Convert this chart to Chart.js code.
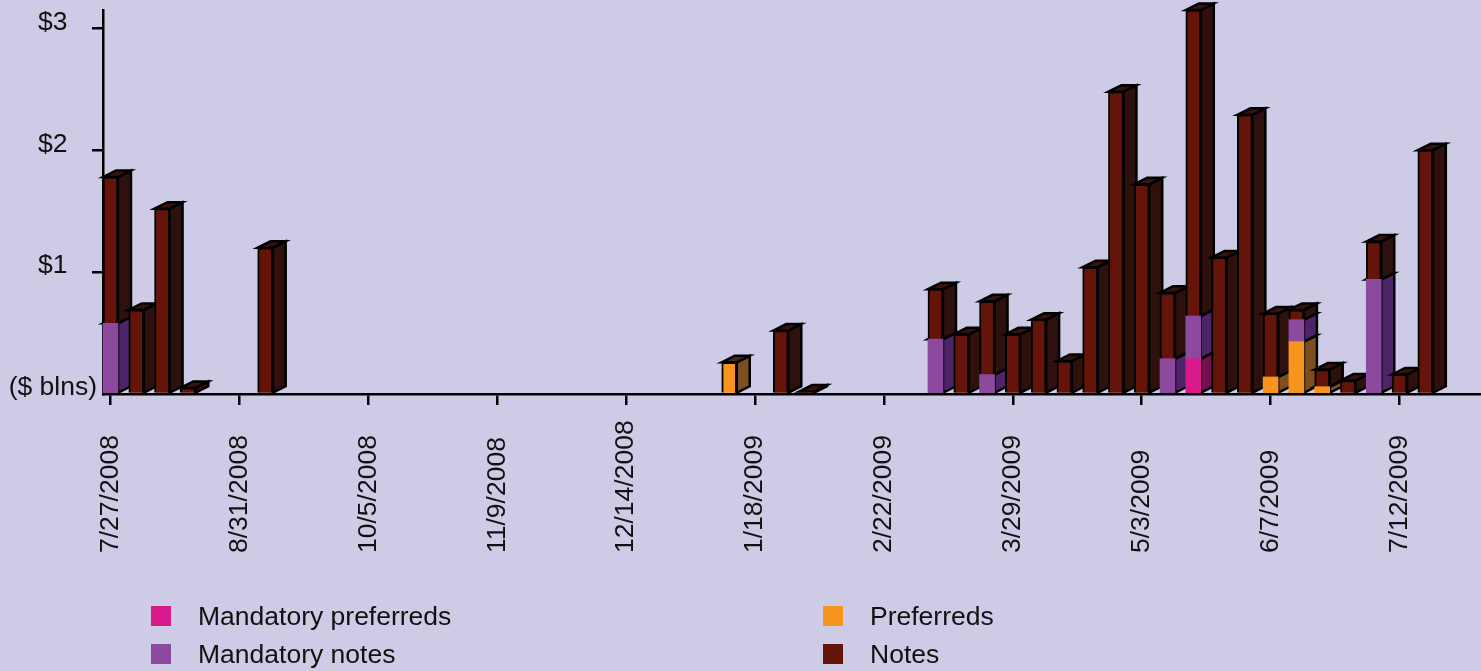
<!DOCTYPE html>
<html>
<head>
<meta charset="utf-8">
<script src="https://cdn.jsdelivr.net/npm/chart.js@4"></script>
<style>
    html, body { margin: 0; padding: 0; background: #cdcbe6; overflow: hidden; }
    #wrap { position: relative; width: 1481px; height: 671px; }
    .key { position: absolute; font: 26.5px "Liberation Sans", sans-serif; color: #111; line-height: 28px; white-space: nowrap; }
    .key i { position: absolute; left: -47px; top: 4px; width: 20px; height: 20px; }
</style>
</head>
<body>
<div id="wrap">
    <canvas id="chart" width="1481" height="671"></canvas>
</div>
<script>
const tickLabels = ['7/27/2008', '8/31/2008', '10/5/2008', '11/9/2008', '12/14/2008', '1/18/2009',
    '2/22/2009', '3/29/2009', '5/3/2009', '6/7/2009', '7/12/2009'];

// one value per week, starting at 7/27/2008, $ billions
const mandatoryPreferreds = [0, 0, 0, 0, 0, 0, 0, 0, 0, 0, 0, 0, 0, 0, 0, 0, 0, 0, 0, 0, 0, 0, 0, 0, 0, 0,
    0, 0, 0, 0, 0, 0, 0, 0, 0, 0, 0, 0, 0, 0, 0, 0, 0.29, 0, 0, 0, 0, 0, 0, 0, 0, 0];
const preferreds = [0, 0, 0, 0, 0, 0, 0, 0, 0, 0, 0, 0, 0, 0, 0, 0, 0, 0, 0, 0, 0, 0, 0, 0, 0.26, 0,
    0, 0, 0, 0, 0, 0, 0, 0, 0, 0, 0, 0, 0, 0, 0, 0, 0, 0, 0, 0.14, 0.43, 0.06, 0, 0, 0, 0];
const mandatoryNotes = [0.58, 0, 0, 0, 0, 0, 0, 0, 0, 0, 0, 0, 0, 0, 0, 0, 0, 0, 0, 0, 0, 0, 0, 0, 0, 0,
    0, 0, 0, 0, 0, 0, 0.45, 0, 0.16, 0, 0, 0, 0, 0, 0, 0.29, 0.35, 0, 0, 0, 0.18, 0, 0, 0.94, 0, 0];
const notes = [1.2, 0.69, 1.52, 0.05, 0, 0, 1.2, 0, 0, 0, 0, 0, 0, 0, 0, 0, 0, 0, 0, 0, 0, 0, 0, 0, 0, 0,
    0.52, 0.02, 0, 0, 0, 0, 0.41, 0.49, 0.6, 0.49, 0.61, 0.27, 1.04, 2.48, 1.72, 0.54, 2.51, 1.12, 2.29,
    0.52, 0.08, 0.14, 0.11, 0.31, 0.16, 2];

const yLabels = { 0: '($ blns)', 1: '$1', 2: '$2', 3: '$3' };

const DEPTH_X = 13;
const DEPTH_Y = 6.5;

function points(values) {
    return values.map((y, x) => ({ x: x, y: y })).filter(p => p.y > 0);
}

// side and top faces of the bars, taken from the bar elements chart.js laid out
const depthFaces = {
    id: 'depthFaces',
    beforeDatasetsDraw(chart) {
        const ctx = chart.ctx;
        ctx.save();
        ctx.strokeStyle = '#000';
        ctx.lineWidth = 2.5;
        ctx.lineJoin = 'miter';
        chart.data.datasets.forEach((ds, i) => {
            chart.getDatasetMeta(i).data.forEach(bar => {
                const r = bar.x + bar.width / 2;
                const l = bar.x - bar.width / 2;
                ctx.fillStyle = ds.sideColor;
                ctx.beginPath();
                ctx.moveTo(r, bar.y);
                ctx.lineTo(r + DEPTH_X, bar.y - DEPTH_Y);
                ctx.lineTo(r + DEPTH_X, bar.base - DEPTH_Y);
                ctx.lineTo(r, bar.base);
                ctx.closePath();
                ctx.fill();
                ctx.stroke();
                ctx.fillStyle = ds.topColor;
                ctx.beginPath();
                ctx.moveTo(l, bar.y);
                ctx.lineTo(l + DEPTH_X, bar.y - DEPTH_Y);
                ctx.lineTo(r + DEPTH_X, bar.y - DEPTH_Y);
                ctx.lineTo(r, bar.y);
                ctx.closePath();
                ctx.fill();
                ctx.stroke();
            });
        });
        ctx.restore();
    }
};

// date labels read upward from a common start line, which the rotated ticks of chart.js can't do
const dateLabels = {
    id: 'dateLabels',
    afterDraw(chart) {
        const ctx = chart.ctx;
        const scale = chart.scales.x;
        ctx.save();
        ctx.font = '26.5px "Liberation Sans"';
        ctx.fillStyle = '#111';
        ctx.textAlign = 'left';
        ctx.textBaseline = 'middle';
        scale.ticks.forEach((tick, i) => {
            ctx.save();
            ctx.translate(scale.getPixelForTick(i), 553);
            ctx.rotate(-Math.PI / 2);
            ctx.fillText(tickLabels[tick.value / 5], 0, 0);
            ctx.restore();
        });
        ctx.restore();
    }
};

const outline = { left: 2, right: 2, top: 2, bottom: 0 };

const chart = new Chart(document.getElementById('chart'), {
    type: 'bar',
    data: {
        datasets: [
            { label: 'Mandatory preferreds', data: points(mandatoryPreferreds), backgroundColor: '#d91a8c', sideColor: '#751050', topColor: '#751050', borderWidth: 0 },
            {
                label: 'Preferreds',
                data: points(preferreds),
                backgroundColor: '#f7941e',
                sideColor: '#7d4e20',
                topColor: '#4a2c12',
                borderColor: '#000',
                // only outlined when nothing is stacked on it
                borderWidth: c => (c.raw && notes[c.raw.x] > 0 ? 0 : outline),
                borderSkipped: false,
            },
            { label: 'Mandatory notes', data: points(mandatoryNotes), backgroundColor: '#8b4a9e', sideColor: '#4d2468', topColor: '#4d2468', borderWidth: 0 },
            {
                label: 'Notes',
                data: points(notes),
                backgroundColor: '#65140a',
                sideColor: '#2e100c',
                topColor: '#3a120c',
                borderColor: '#000',
                borderWidth: outline,
                borderSkipped: false,
            },
        ]
    },
    options: {
        responsive: false,
        animation: false,
        barThickness: 15,
        clip: false,
        layout: { padding: { top: 10 } },
        plugins: { legend: { display: false }, tooltip: { enabled: false } },
        scales: {
            x: {
                type: 'linear',
                stacked: true,
                offset: false,
                min: -0.29,
                max: 53.16,
                afterFit(scale) { scale.height = 277; },
                border: { color: '#000', width: 2.5 },
                grid: { offset: false, drawOnChartArea: false, color: '#000', tickLength: 11, lineWidth: 2.5 },
                ticks: { stepSize: 5, includeBounds: false, display: false },
            },
            y: {
                stacked: true,
                min: 0,
                max: 3.15,
                afterFit(scale) {
                    scale.width = 103;
                    scale.paddingTop = 0;
                    scale.paddingBottom = 0;
                },
                border: { color: '#000', width: 2.5 },
                grid: {
                    drawOnChartArea: false,
                    tickLength: 11,
                    lineWidth: 2.5,
                    color: c => (c.tick && c.tick.value === 0 ? 'transparent' : '#000'),
                },
                ticks: {
                    stepSize: 1,
                    includeBounds: false,
                    color: '#111',
                    font: { family: '"Liberation Sans"', size: 26.5 },
                    crossAlign: 'center',
                    padding: -5,
                    labelOffset: -6,
                    callback: v => yLabels[v],
                },
            },
        },
    },
    plugins: [depthFaces, dateLabels],
});

// two column legend
const wrap = document.getElementById('wrap');
const keySpots = [[198, 602], [870, 602], [198, 640], [870, 640]];
chart.data.datasets.forEach((ds, i) => {
    const key = document.createElement('div');
    key.className = 'key';
    key.style.left = keySpots[i][0] + 'px';
    key.style.top = keySpots[i][1] + 'px';
    key.textContent = ds.label;
    const swatch = document.createElement('i');
    swatch.style.background = ds.backgroundColor;
    key.appendChild(swatch);
    wrap.appendChild(key);
});
</script>
</body>
</html>
